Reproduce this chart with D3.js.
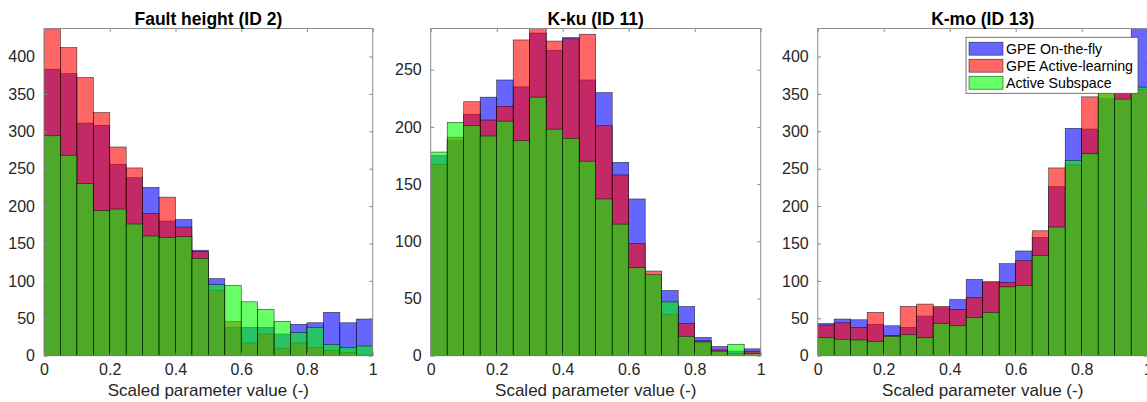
<!DOCTYPE html>
<html>
<head>
<meta charset="utf-8">
<script src="https://cdn.jsdelivr.net/npm/d3@7"></script>
<style>
  html, body { margin: 0; padding: 0; background: #fff; }
  svg { display: block; font-family: "Liberation Sans", Arial, Helvetica, sans-serif; }
</style>
</head>
<body>
<svg id="chart" width="1147" height="402"></svg>
<script>
// ---------- data ----------
const binEdges = [0, 0.05, 0.1, 0.15, 0.2, 0.25, 0.3, 0.35, 0.4, 0.45, 0.5,
                  0.55, 0.6, 0.65, 0.7, 0.75, 0.8, 0.85, 0.9, 0.95, 1];

const seriesNames = ["GPE On-the-fly", "GPE Active-learning", "Active Subspace"];
const seriesColors = ["#0000ff", "#ff0000", "#00ff00"];

const panelTitles = ["Fault height (ID 2)", "K-ku (ID 11)", "K-mo (ID 13)"];

// Fault height (ID 2)
const faultBlue  = [383, 377, 311, 308, 256, 238, 225, 180, 182, 141, 103, 38, 38, 38, 29, 42, 44, 58, 44, 49];
const faultRed   = [437, 412, 372, 325, 279, 251, 190, 212, 172, 139, 87, 46, 17, 29, 10, 17, 11, 7, 4, 1];
const faultGreen = [294, 268, 230, 194, 196, 176, 160, 158, 159, 130, 95, 94, 72, 62, 46, 31, 38, 15, 11, 13];

// K-ku (ID 11)
const kkuBlue  = [175, 188, 211, 226, 241, 235, 282, 267, 278, 241, 230, 169, 137, 70, 57, 43, 16, 8, 4, 6];
const kkuRed   = [167, 191, 222, 206, 218, 276, 286, 275, 277, 281, 201, 158, 98, 74, 36, 28, 13, 5, 2, 4];
const kkuGreen = [178, 204, 201, 192, 205, 188, 226, 198, 190, 170, 137, 115, 77, 71, 47, 17, 12, 4, 10, 2];

// K-mo (ID 13)
const kmoBlue  = [43, 49, 48, 42, 40, 38, 53, 64, 75, 102, 98, 123, 140, 158, 226, 304, 303, 344, 368, 445];
const kmoRed   = [41, 44, 38, 58, 27, 66, 69, 66, 62, 78, 99, 98, 127, 167, 251, 255, 346, 356, 372, 356];
const kmoGreen = [24, 22, 21, 19, 26, 28, 24, 43, 40, 51, 58, 92, 94, 134, 172, 261, 270, 362, 343, 359];

const yMaxes = [437.4, 286, 437.4];
const yTicks1 = [0, 50, 100, 150, 200, 250, 300, 350, 400];
const yTicks2 = [0, 50, 100, 150, 200, 250];
const xTicks = [0, 0.2, 0.4, 0.6, 0.8, 1];
const xTickLabels = ["0", "0.2", "0.4", "0.6", "0.8", "1"];
const xLabel = "Scaled parameter value (-)";

// ---------- layout ----------
const panels = [
  { left: 44,    right: 372.7, title: panelTitles[0], series: [faultBlue, faultRed, faultGreen], yMax: yMaxes[0], yTicks: yTicks1 },
  { left: 430.7, right: 760.7, title: panelTitles[1], series: [kkuBlue, kkuRed, kkuGreen],       yMax: yMaxes[1], yTicks: yTicks2 },
  { left: 817.7, right: 1147.7, title: panelTitles[2], series: [kmoBlue, kmoRed, kmoGreen],      yMax: yMaxes[2], yTicks: yTicks1, legend: true }
];
const plotTop = 28.5, plotBottom = 355.7;
const axisColor = "#8c8c8c";
const textColor = "#262626";

const svg = d3.select("#chart");
const defs = svg.append("defs");

panels.forEach((p, pi) => {
  const x = d3.scaleLinear().domain([0, 1]).range([p.left, p.right]);
  const y = d3.scaleLinear().domain([0, p.yMax]).range([plotBottom, plotTop]);

  defs.append("clipPath").attr("id", "clip" + pi)
    .append("rect").attr("x", p.left).attr("y", plotTop)
    .attr("width", p.right - p.left).attr("height", plotBottom - plotTop);

  const g = svg.append("g");
  const plot = g.append("g").attr("clip-path", `url(#clip${pi})`);

  p.series.forEach((vals, si) => {
    plot.append("g").selectAll("rect")
      .data(vals)
      .join("rect")
      .attr("x", (d, i) => x(binEdges[i]))
      .attr("width", (d, i) => x(binEdges[i + 1]) - x(binEdges[i]))
      .attr("y", d => y(d))
      .attr("height", d => y(0) - y(d))
      .attr("fill", seriesColors[si])
      .attr("fill-opacity", 0.6)
      .attr("stroke", "#000")
      .attr("stroke-opacity", 0.75)
      .attr("stroke-width", 0.6);
  });

  // box
  g.append("rect")
    .attr("x", p.left).attr("y", plotTop)
    .attr("width", p.right - p.left).attr("height", plotBottom - plotTop)
    .attr("fill", "none").attr("stroke", axisColor).attr("stroke-width", 1);

  const xAxis = d3.axisBottom(x).tickValues(xTicks)
    .tickFormat((d, i) => xTickLabels[i]).tickSizeInner(-3.5).tickSizeOuter(0).tickPadding(8);
  const gx = g.append("g").attr("transform", `translate(0,${plotBottom})`).call(xAxis);
  gx.select(".domain").remove();
  gx.selectAll("line").attr("stroke", axisColor);
  gx.selectAll("text").attr("fill", textColor).attr("font-size", "16px")
    .attr("font-family", "Liberation Sans, Arial, sans-serif");

  const xAxisTop = d3.axisTop(x).tickValues(xTicks).tickFormat("").tickSizeInner(-3.5).tickSizeOuter(0);
  const gxt = g.append("g").attr("transform", `translate(0,${plotTop})`).call(xAxisTop);
  gxt.select(".domain").remove();
  gxt.selectAll("line").attr("stroke", axisColor);

  const yAxis = d3.axisLeft(y).tickValues(p.yTicks).tickFormat(d3.format("d"))
    .tickSizeInner(-3.5).tickSizeOuter(0).tickPadding(9);
  const gy = g.append("g").attr("transform", `translate(${p.left},0)`).call(yAxis);
  gy.select(".domain").remove();
  gy.selectAll("line").attr("stroke", axisColor);
  gy.selectAll("text").attr("fill", textColor).attr("font-size", "16px")
    .attr("font-family", "Liberation Sans, Arial, sans-serif");

  const yAxisR = d3.axisRight(y).tickValues(p.yTicks).tickFormat("").tickSizeInner(-3.5).tickSizeOuter(0);
  const gyr = g.append("g").attr("transform", `translate(${p.right},0)`).call(yAxisR);
  gyr.select(".domain").remove();
  gyr.selectAll("line").attr("stroke", axisColor);

  g.append("text")
    .attr("x", (p.left + p.right) / 2).attr("y", 25)
    .attr("text-anchor", "middle")
    .attr("font-size", "17.5px").attr("font-weight", "bold").attr("fill", "#000")
    .text(p.title);

  g.append("text")
    .attr("x", (p.left + p.right) / 2).attr("y", 395.5)
    .attr("text-anchor", "middle")
    .attr("font-size", "17px").attr("fill", textColor)
    .text(xLabel);

  if (p.legend) {
    const lg = g.append("g");
    const lx = 966, ly = 37.3, lw = 172, lh = 56;
    lg.append("rect").attr("x", lx).attr("y", ly).attr("width", lw).attr("height", lh)
      .attr("fill", "#fff").attr("stroke", "#555").attr("stroke-width", 0.8);
    seriesNames.forEach((name, si) => {
      const cy = 48.7 + si * 17;
      lg.append("rect")
        .attr("x", 969).attr("y", cy - 6.5).attr("width", 34).attr("height", 13)
        .attr("fill", seriesColors[si]).attr("fill-opacity", 0.6)
        .attr("stroke", "#000").attr("stroke-opacity", 0.75).attr("stroke-width", 0.6);
      lg.append("text")
        .attr("x", 1006).attr("y", cy + 5)
        .attr("font-size", "14.2px").attr("fill", "#000")
        .text(name);
    });
  }
});
</script>
</body>
</html>
